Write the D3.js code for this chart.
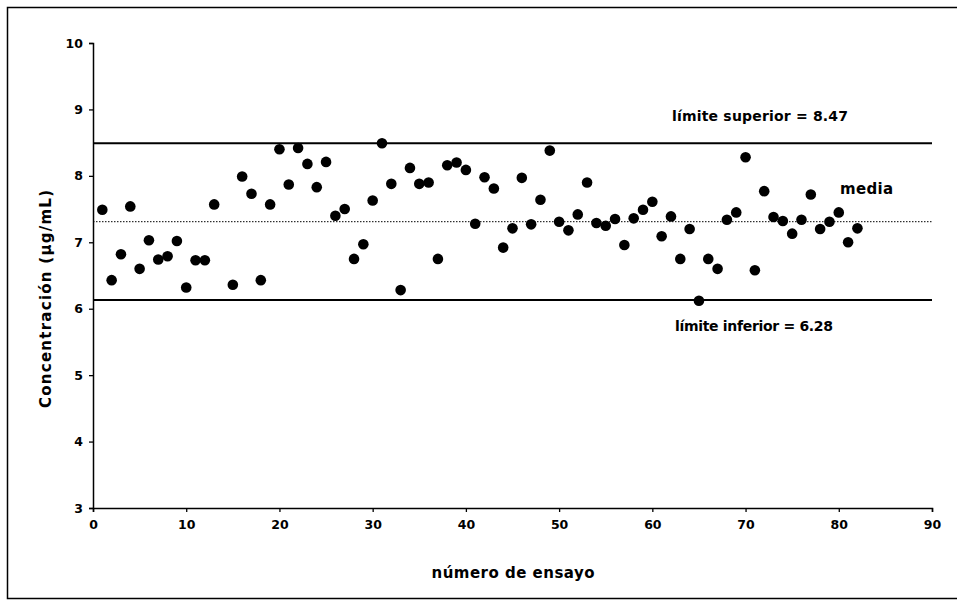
<!DOCTYPE html>
<html>
  <head>
    <meta charset="utf-8">
    <title>Concentración por ensayo</title>
    <script src="https://d3js.org/d3.v7.min.js"></script>
    <style>
      body { margin: 0; background: #fff; }
      text { font-family: "DejaVu Sans", Arial, sans-serif; font-weight: bold; fill: #000; }
    </style>
  </head>
  <body>
    <div id="chart"></div>
    <script>
      // data (trial 14 has no point)
      var ensayos = [1,2,3,4,5,6,7,8,9,10,11,12,13,15,16,17,18,19,20,21,22,23,24,25,26,27,28,29,30,31,32,33,34,35,36,37,38,39,40,41,42,43,44,45,46,47,48,49,50,51,52,53,54,55,56,57,58,59,60,61,62,63,64,65,66,67,68,69,70,71,72,73,74,75,76,77,78,79,80,81,82];
      var concentracion = [7.49,6.43,6.82,7.54,6.60,7.03,6.74,6.79,7.02,6.32,6.73,6.73,7.57,6.36,7.99,7.73,6.43,7.57,8.40,7.87,8.42,8.18,7.83,8.21,7.40,7.50,6.75,6.97,7.63,8.49,7.88,6.28,8.12,7.88,7.90,6.75,8.16,8.20,8.09,7.28,7.98,7.81,6.92,7.21,7.97,7.27,7.64,8.38,7.31,7.18,7.42,7.90,7.29,7.25,7.35,6.96,7.36,7.49,7.61,7.09,7.39,6.75,7.20,6.12,6.75,6.60,7.34,7.45,8.28,6.58,7.77,7.38,7.32,7.13,7.34,7.72,7.20,7.31,7.45,7.00,7.21];
      var limiteSuperior = 8.49, limiteInferior = 6.13, media = 7.31;
      var xTicks = [0,10,20,30,40,50,60,70,80,90];
      var yTicks = [3,4,5,6,7,8,9,10];

      var width = 957, height = 602;
      var svg = d3.select("#chart").append("svg")
        .attr("width", width)
        .attr("height", height);

      // outer frame (right side cut off in the scan)
      svg.append("path")
        .attr("d", "M" + (width + 5) + ",7.5 H7.5 V598.5 H" + (width + 5))
        .attr("fill", "none")
        .attr("stroke", "#000")
        .attr("stroke-width", 1.5);

      var x = d3.scaleLinear().domain([0, 90]).range([93, 932]);
      var y = d3.scaleLinear().domain([3, 10]).range([508, 43]);

      // axes
      svg.append("g")
        .attr("transform", "translate(0," + y(3) + ")")
        .call(d3.axisBottom(x).tickValues(xTicks).tickFormat(d3.format("d")).tickSize(4).tickPadding(8));
      svg.append("g")
        .attr("transform", "translate(" + x(0) + ",0)")
        .call(d3.axisLeft(y).tickValues(yTicks).tickFormat(d3.format("d")).tickSize(4).tickPadding(6));
      svg.selectAll(".domain").attr("stroke-width", 1.5);
      svg.selectAll(".tick line").attr("stroke-width", 1.3);
      svg.selectAll(".tick text")
        .style("font-size", "12.5px")
        .style("font-family", "'DejaVu Sans', Arial, sans-serif")
        .style("font-weight", "bold");

      // control lines
      [limiteSuperior, limiteInferior].forEach(function(v) {
        svg.append("line")
          .attr("x1", x(0)).attr("x2", x(90))
          .attr("y1", y(v)).attr("y2", y(v))
          .attr("stroke", "#000")
          .attr("stroke-width", 2);
      });
      svg.append("line")
        .attr("x1", x(0)).attr("x2", x(90))
        .attr("y1", y(media)).attr("y2", y(media))
        .attr("stroke", "#000")
        .attr("stroke-width", 1)
        .attr("stroke-dasharray", "1.5,1.5");

      // points
      svg.append("g").selectAll("circle")
        .data(ensayos)
        .enter().append("circle")
          .attr("cx", function(d) { return x(d); })
          .attr("cy", function(d, i) { return y(concentracion[i]); })
          .attr("r", 5.3)
          .attr("fill", "#000");

      // labels
      svg.append("text")
        .attr("x", 672).attr("y", 121)
        .attr("textLength", 176)
        .style("font-size", "14px")
        .text("límite superior = 8.47");
      svg.append("text")
        .attr("x", 675).attr("y", 331)
        .attr("textLength", 158)
        .style("font-size", "14px")
        .text("límite inferior = 6.28");
      svg.append("text")
        .attr("x", 840).attr("y", 194)
        .attr("textLength", 53)
        .style("font-size", "15px")
        .text("media");

      svg.append("text")
        .attr("x", 513).attr("y", 578)
        .attr("text-anchor", "middle")
        .attr("textLength", 163)
        .style("font-size", "15px")
        .text("número de ensayo");
      svg.append("text")
        .attr("transform", "translate(51,299) rotate(-90)")
        .attr("text-anchor", "middle")
        .attr("textLength", 218)
        .style("font-size", "15px")
        .text("Concentración (µg/mL)");
    </script>
  </body>
</html>
